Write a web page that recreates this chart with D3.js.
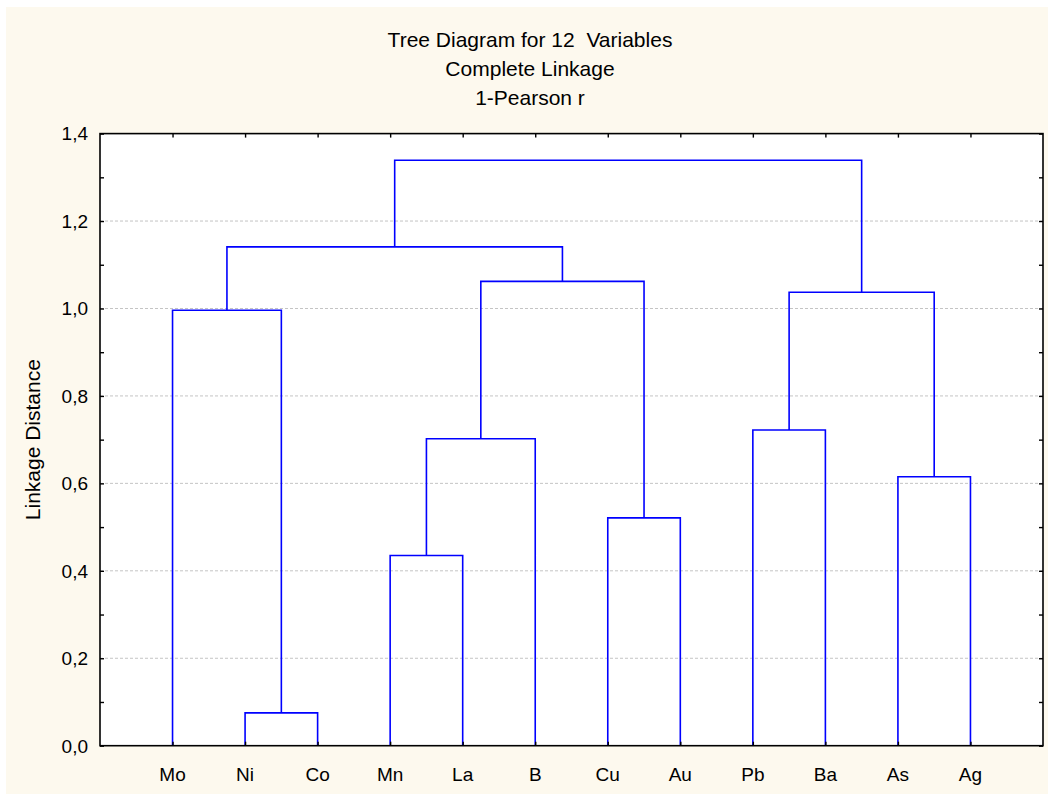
<!DOCTYPE html>
<html>
<head>
<meta charset="utf-8">
<script src="https://cdn.jsdelivr.net/npm/d3@7"></script>
<style>
  html, body { margin: 0; padding: 0; background: #ffffff; }
  svg { display: block; }
  text { font-family: "Liberation Sans", Arial, sans-serif; fill: #000; white-space: pre; }
</style>
</head>
<body>
<svg id="chart" width="1048" height="794"></svg>
<script>
// Variables in dendrogram leaf order
const leaves = ["Mo", "Ni", "Co", "Mn", "La", "B", "Cu", "Au", "Pb", "Ba", "As", "Ag"];

// Agglomeration steps (complete linkage, 1 - Pearson r).
// Each step joins mergeLeft[i] with mergeRight[i] at mergeHeight[i];
// a name "cN" refers to the cluster formed at step N (1-based).
const mergeLeft   = ["Ni", "Mn", "Cu", "As", "c2", "Pb", "Mo", "c6", "c5", "c7", "c10"];
const mergeRight  = ["Co", "La", "Au", "Ag", "B",  "Ba", "c1", "c4", "c3", "c9", "c8"];
const mergeHeight = [0.075, 0.435, 0.521, 0.615, 0.702, 0.722, 0.996, 1.037, 1.062, 1.141, 1.339];

// Axis ticks
const yTicks = [0, 0.2, 0.4, 0.6, 0.8, 1.0, 1.2, 1.4];
const yMinorTicks = [0, 0.1, 0.2, 0.3, 0.4, 0.5, 0.6, 0.7, 0.8, 0.9, 1.0, 1.1, 1.2, 1.3, 1.4];

const titleLines = ["Tree Diagram for 12  Variables", "Complete Linkage", "1-Pearson r"];
const yTitle = "Linkage Distance";

const svg = d3.select("#chart");
const W = 1048, H = 794;

// page background
svg.append("rect").attr("x", 6).attr("y", 7).attr("width", W - 6).attr("height", H - 7)
  .attr("fill", "#fdf9ee");

const plot = { left: 100, right: 1043, top: 133.6, bottom: 745.7 };

const x = d3.scaleLinear().domain([0, leaves.length + 1]).range([plot.left, plot.right]);
const y = d3.scaleLinear().domain([0, 1.4]).range([plot.bottom, plot.top]);

// plot area
svg.append("rect")
  .attr("x", plot.left).attr("y", plot.top)
  .attr("width", plot.right - plot.left).attr("height", plot.bottom - plot.top)
  .attr("fill", "#ffffff");

// horizontal dashed grid
svg.append("g").selectAll("line")
  .data(yTicks.filter(d => d > 0 && d < 1.4))
  .join("line")
  .attr("x1", plot.left).attr("x2", plot.right)
  .attr("y1", d => y(d)).attr("y2", d => y(d))
  .attr("stroke", "#c4c4c4").attr("stroke-width", 1)
  .attr("stroke-dasharray", "3,2");

// dendrogram
const pos = {};
leaves.forEach((name, i) => { pos[name] = { x: x(i + 1), h: 0 }; });
const links = svg.append("g")
  .attr("fill", "none").attr("stroke", "#0000ff").attr("stroke-width", 1.6);
mergeLeft.forEach((a, i) => {
  const b = mergeRight[i];
  const h = mergeHeight[i];
  const A = pos[a], B = pos[b];
  const path = d3.path();
  path.moveTo(A.x, y(A.h));
  path.lineTo(A.x, y(h));
  path.lineTo(B.x, y(h));
  path.lineTo(B.x, y(B.h));
  links.append("path").attr("d", path.toString());
  pos["c" + (i + 1)] = { x: (A.x + B.x) / 2, h: h };
});

// frame
svg.append("rect")
  .attr("x", plot.left).attr("y", plot.top)
  .attr("width", plot.right - plot.left).attr("height", plot.bottom - plot.top)
  .attr("fill", "none").attr("stroke", "#000").attr("stroke-width", 1.6);

const fmt = d => d3.format(".1f")(d).replace(".", ",");

// left axis
const leftAxis = svg.append("g")
  .attr("transform", `translate(${plot.left},0)`)
  .call(d3.axisLeft(y).tickValues(yMinorTicks).tickSize(-4).tickFormat(""));
leftAxis.select(".domain").remove();
leftAxis.selectAll("line").attr("stroke", "#000").attr("stroke-width", 1.4);

svg.append("g").selectAll("text")
  .data(yTicks)
  .join("text")
  .attr("x", plot.left - 12)
  .attr("y", d => y(d))
  .attr("dy", "0.36em")
  .attr("text-anchor", "end")
  .attr("font-size", 19)
  .text(fmt);

// right axis (ticks only)
const rightAxis = svg.append("g")
  .attr("transform", `translate(${plot.right},0)`)
  .call(d3.axisRight(y).tickValues(yMinorTicks).tickSize(-4).tickFormat(""));
rightAxis.select(".domain").remove();
rightAxis.selectAll("line").attr("stroke", "#000").attr("stroke-width", 1.4);

// bottom axis
const leafTicks = leaves.map((d, i) => i + 1);
const bottomAxis = svg.append("g")
  .attr("transform", `translate(0,${plot.bottom})`)
  .call(d3.axisBottom(x).tickValues(leafTicks).tickSize(-4)
    .tickFormat(""));
bottomAxis.select(".domain").remove();
bottomAxis.selectAll("line").attr("stroke", "#000").attr("stroke-width", 1.4);

svg.append("g").selectAll("text")
  .data(leaves)
  .join("text")
  .attr("x", (d, i) => x(i + 1))
  .attr("y", 781)
  .attr("text-anchor", "middle")
  .attr("font-size", 19)
  .text(d => d);

// top axis (ticks only)
const topAxis = svg.append("g")
  .attr("transform", `translate(0,${plot.top})`)
  .call(d3.axisTop(x).tickValues(leafTicks).tickSize(-4).tickFormat(""));
topAxis.select(".domain").remove();
topAxis.selectAll("line").attr("stroke", "#000").attr("stroke-width", 1.4);

// titles
svg.append("g").selectAll("text")
  .data(titleLines)
  .join("text")
  .attr("x", 530)
  .attr("y", (d, i) => 47 + i * 29)
  .attr("text-anchor", "middle")
  .attr("font-size", 21)
  .text(d => d);

svg.append("text")
  .attr("transform", `translate(40,${(plot.top + plot.bottom) / 2}) rotate(-90)`)
  .attr("text-anchor", "middle")
  .attr("font-size", 21)
  .text(yTitle);
</script>
</body>
</html>
